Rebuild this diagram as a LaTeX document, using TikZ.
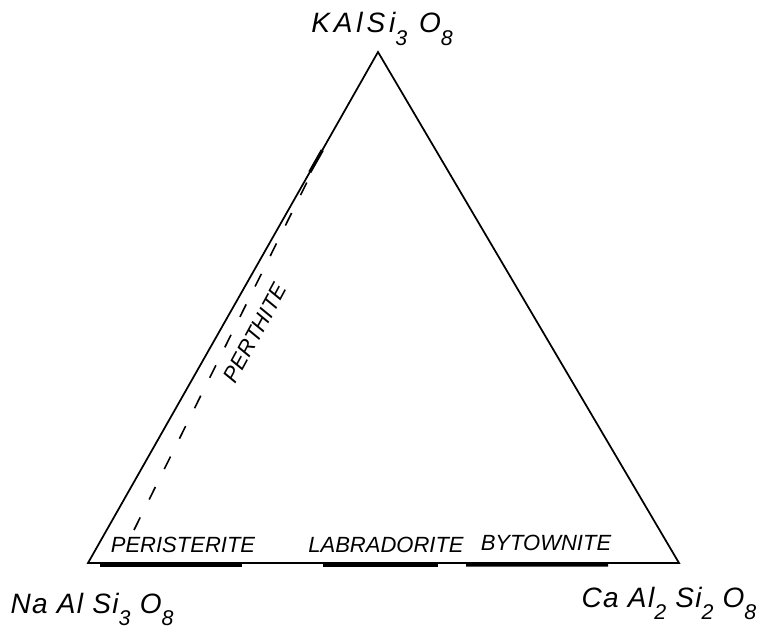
\documentclass[tikz,border=0pt]{standalone}
\usepackage{fontspec}
\setmainfont{Liberation Sans}
\newfontfamily\letterfont[LetterSpace=5]{Liberation Sans}
\newfontfamily\widefont[LetterSpace=14]{Liberation Sans}
\usetikzlibrary{calc}
\newcommand{\chemsub}[1]{\raisebox{-0.45em}{\fontsize{16}{16}\selectfont #1}}

\begin{document}
\begin{tikzpicture}[x=0.75pt,y=-0.75pt,
  formula/.style={font=\letterfont\fontsize{21}{21}\selectfont\itshape, anchor=base},
  mineral/.style={font=\fontsize{16.5}{16.5}\selectfont\itshape, anchor=base},
  bar/.style={line width=3pt}]
\useasboundingbox (0,0) rectangle (761,631);
\coordinate (K) at (378,52);
\coordinate (Na) at (88,563);
\coordinate (Ca) at (679,563);
\draw[line width=1.3pt] (Na) -- (K) -- (Ca) -- cycle;
% solid solution ranges on the plagioclase join
\draw[bar] ($(Na)!0.020!(Ca)+(0,1.5)$) -- ($(Na)!0.261!(Ca)+(0,1.5)$);
\draw[bar] ($(Na)!0.398!(Ca)+(0,1.5)$) -- ($(Na)!0.592!(Ca)+(0,1.5)$);
\draw[bar] ($(Na)!0.640!(Ca)+(0,1.5)$) -- ($(Na)!0.880!(Ca)+(0,1.5)$);
\draw[line width=2.5pt] ($(Na)!0.765!(K)$) -- ($(Na)!0.808!(K)$);
% perthite gap
\coordinate (p1) at (134,530);
\coordinate (p2) at (312,172);
\draw[line width=1.2pt, dash pattern=on 10.5pt off 15pt] (p1) -- (p2);
\node[formula, font=\widefont\fontsize{21}{21}\selectfont\itshape] (kfs) at (382,33) {KAlSi\chemsub{3} O\chemsub{8}};
\node[formula] (ab) at (92,613) {Na Al Si\chemsub{3} O\chemsub{8}};
\node[formula] (an) at (669,607) {Ca Al\chemsub{2} Si\chemsub{2} O\chemsub{8}};
\node[mineral] (peri) at (183,552) {PERISTERITE};
\node[mineral] (labr) at (386,552) {LABRADORITE};
\node[mineral] (byto) at (546,550) {BYTOWNITE};
\node[mineral, anchor=center, rotate=61.5] (pert) at (255,333) {PERTHITE};
\end{tikzpicture}
\end{document}
